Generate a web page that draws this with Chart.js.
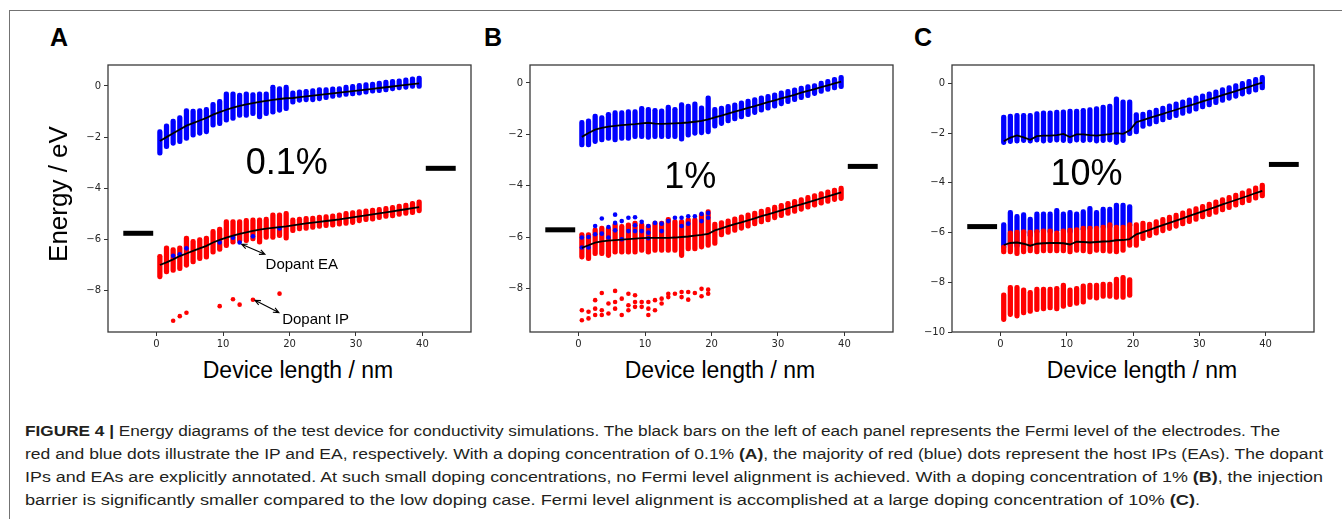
<!DOCTYPE html>
<html>
<head>
<meta charset="utf-8">
<title>Figure 4</title>
<script src="https://cdn.jsdelivr.net/npm/chart.js@4.4.1/dist/chart.umd.min.js"></script>
<style>
  html, body { margin: 0; padding: 0; background: #fff; }
  body { position: relative; width: 1342px; height: 519px; overflow: hidden; font-family: "Liberation Sans", Arial, sans-serif; color: #000; }
  .frame { position: absolute; left: 9px; top: 10px; width: 1400px; height: 600px; border-left: 1.5px solid #737373; border-top: 1.5px solid #737373; }
  .plot { position: absolute; top: 56px; }
  .letter { position: absolute; top: 25px; font-size: 25px; line-height: 25px; font-weight: bold; }
  .xtitle { position: absolute; top: 359px; width: 300px; text-align: center; font-size: 23px; line-height: 23px; white-space: nowrap; }
  .ytitle { position: absolute; left: -42px; top: 181px; width: 200px; height: 26px; text-align: center; font-size: 26px; line-height: 26px; transform: rotate(-90deg); white-space: nowrap; }
  .cap { position: absolute; left: 25px; font-family: "Liberation Sans Narrow", "Liberation Sans", Arial, sans-serif; font-size: 14px; line-height: 14px; white-space: nowrap; transform-origin: 0 0; color: #231f20; }
</style>
</head>
<body>
<div class="frame"></div>

<div class="letter" style="left:50px">A</div>
<div class="letter" style="left:484px">B</div>
<div class="letter" style="left:914px">C</div>

<canvas id="chartA" class="plot" width="414" height="300" style="left:63px"></canvas>
<canvas id="chartB" class="plot" width="414" height="300" style="left:485px"></canvas>
<canvas id="chartC" class="plot" width="413" height="300" style="left:907px"></canvas>

<div class="ytitle">Energy / eV</div>
<div class="xtitle" style="left:148px">Device length / nm</div>
<div class="xtitle" style="left:570px">Device length / nm</div>
<div class="xtitle" style="left:992px">Device length / nm</div>

<div class="cap" data-w="1255" style="top:424px"><b>FIGURE 4 |</b> Energy diagrams of the test device for conductivity simulations. The black bars on the left of each panel represents the Fermi level of the electrodes. The</div>
<div class="cap" data-w="1298" style="top:447px">red and blue dots illustrate the IP and EA, respectively. With a doping concentration of 0.1% <b>(A)</b>, the majority of red (blue) dots represent the host IPs (EAs). The dopant</div>
<div class="cap" data-w="1298" style="top:470px">IPs and EAs are explicitly annotated. At such small doping concentrations, no Fermi level alignment is achieved. With a doping concentration of 1% <b>(B)</b>, the injection</div>
<div class="cap" data-w="1175" style="top:493px">barrier is significantly smaller compared to the low doping case. Fermi level alignment is accomplished at a large doping concentration of 10% <b>(C)</b>.</div>

<script>
// site positions along the device (nm)
const cols = [0.5, 1.5, 2.5, 3.5, 4.5, 5.5, 6.5, 7.5, 8.5, 9.5, 10.5, 11.5, 12.5, 13.5, 14.5, 15.5, 16.5, 17.5, 18.5, 19.5,
              20.5, 21.5, 22.5, 23.5, 24.5, 25.5, 26.5, 27.5, 28.5, 29.5, 30.5, 31.5, 32.5, 33.5, 34.5, 35.5, 36.5, 37.5, 38.5, 39.5];
const dopedCols = cols.slice(0, 20);
const xTicks = [0, 10, 20, 30, 40];
const yTicksAB = [0, -2, -4, -6, -8];
const yTicksC = [0, -2, -4, -6, -8, -10];
const fermiLeftX = [-5, -0.5];
const fermiRightX = [40.5, 45];

// ---- panel A, 0.1 %
const aEaTop = [-1.71, -1.48, -1.29, -1.16, -0.88, -0.90, -0.88, -0.84, -0.64, -0.52, -0.23, -0.23, -0.28, -0.23, -0.26, -0.23, -0.23, 0.03, 0.00, 0.03,
                -0.19, -0.15, -0.13, -0.10, -0.06, -0.06, -0.03, 0.00, 0.03, 0.06, 0.10, 0.13, 0.15, 0.19, 0.23, 0.26, 0.28, 0.32, 0.36, 0.39];
const aEaBottom = [-2.71, -2.45, -2.32, -2.26, -2.13, -2.00, -1.93, -1.87, -1.61, -1.55, -1.42, -1.35, -1.23, -1.23, -1.16, -1.29, -1.16, -1.10, -1.03, -0.97,
                   -0.71, -0.64, -0.62, -0.62, -0.58, -0.54, -0.49, -0.45, -0.41, -0.39, -0.36, -0.32, -0.28, -0.26, -0.23, -0.19, -0.15, -0.13, -0.10, -0.10];
const aEaMean = [-2.15, -2.00, -1.85, -1.70, -1.55, -1.45, -1.35, -1.25, -1.12, -1.02, -0.93, -0.85, -0.78, -0.72, -0.67, -0.62, -0.58, -0.54, -0.51, -0.48,
                 -0.47, -0.44, -0.41, -0.38, -0.35, -0.32, -0.29, -0.26, -0.23, -0.20, -0.17, -0.14, -0.11, -0.08, -0.05, -0.02, 0.01, 0.04, 0.07, 0.10];
const aIpTop = [-6.58, -6.25, -6.32, -6.25, -5.87, -6.00, -5.93, -5.87, -5.61, -5.52, -5.22, -5.22, -5.22, -5.18, -5.16, -5.16, -5.13, -4.96, -4.96, -4.90,
                -5.16, -5.13, -5.10, -5.09, -5.05, -5.03, -5.00, -4.96, -4.90, -4.87, -4.83, -4.80, -4.77, -4.75, -4.71, -4.67, -4.62, -4.58, -4.51, -4.45];
const aIpBottom = [-7.54, -7.35, -7.29, -7.22, -7.09, -6.96, -6.83, -6.77, -6.58, -6.47, -6.32, -6.19, -6.13, -6.13, -6.06, -6.19, -6.00, -6.00, -5.93, -6.03,
                   -5.74, -5.67, -5.65, -5.61, -5.57, -5.54, -5.52, -5.48, -5.45, -5.42, -5.35, -5.31, -5.29, -5.23, -5.18, -5.16, -5.10, -5.06, -5.03, -4.96];
const aIpMean = [-7.00, -6.90, -6.78, -6.65, -6.55, -6.45, -6.35, -6.25, -6.12, -6.02, -5.93, -5.85, -5.78, -5.72, -5.67, -5.62, -5.58, -5.55, -5.52, -5.49,
                 -5.45, -5.41, -5.37, -5.34, -5.31, -5.28, -5.25, -5.22, -5.18, -5.14, -5.10, -5.06, -5.02, -4.98, -4.94, -4.90, -4.86, -4.82, -4.78, -4.74];
const aDopantX = [2.5, 3.5, 4.5, 9.5, 11.5, 12.5, 14.5, 18.5];
const aDopantEa = [-6.64, -6.58, -6.35, -6.12, -5.93, -6.12, -5.88, -5.57];
const aDopantIp = [-9.18, -9.00, -8.87, -8.61, -8.34, -8.55, -8.36, -8.12];
const fermiA = [-5.76, -3.22];

// ---- panel B, 1 %
const bEaTop = [-1.46, -1.40, -1.21, -1.27, -1.14, -1.08, -1.08, -1.04, -1.04, -0.91, -0.95, -0.99, -1.01, -0.86, -0.95, -0.76, -0.82, -0.73, -0.89, -0.50,
                -0.95, -0.90, -0.83, -0.77, -0.70, -0.63, -0.57, -0.50, -0.44, -0.38, -0.31, -0.25, -0.19, -0.12, -0.06, 0.00, 0.07, 0.14, 0.22, 0.30];
const bEaBottom = [-2.49, -2.49, -2.36, -2.30, -2.24, -2.30, -2.24, -2.24, -2.17, -2.17, -2.20, -2.17, -2.17, -2.17, -2.17, -2.27, -2.11, -2.04, -2.02, -1.98,
                   -1.76, -1.66, -1.56, -1.48, -1.40, -1.31, -1.23, -1.14, -1.06, -0.98, -0.89, -0.81, -0.73, -0.65, -0.57, -0.49, -0.41, -0.33, -0.27, -0.22];
const bEaMean = [-2.10, -1.95, -1.82, -1.75, -1.70, -1.67, -1.64, -1.62, -1.60, -1.57, -1.55, -1.58, -1.59, -1.58, -1.57, -1.56, -1.54, -1.51, -1.48, -1.42,
                 -1.34, -1.27, -1.19, -1.12, -1.05, -0.97, -0.90, -0.82, -0.75, -0.68, -0.60, -0.53, -0.46, -0.38, -0.31, -0.24, -0.16, -0.09, -0.02, 0.05];
const bIpTop = [-5.83, -5.83, -5.64, -5.57, -5.60, -5.45, -5.51, -5.45, -5.38, -5.45, -5.51, -5.38, -5.38, -5.23, -5.32, -5.32, -5.25, -5.25, -5.06, -4.93,
                -5.42, -5.36, -5.29, -5.21, -5.14, -5.06, -4.99, -4.91, -4.84, -4.76, -4.69, -4.61, -4.53, -4.46, -4.38, -4.31, -4.23, -4.16, -4.09, -4.02];
const bIpBottom = [-6.86, -6.92, -6.73, -6.73, -6.80, -6.67, -6.67, -6.67, -6.67, -6.60, -6.67, -6.60, -6.60, -6.60, -6.60, -6.80, -6.54, -6.54, -6.47, -6.41,
                   -6.33, -6.00, -5.90, -5.82, -5.74, -5.66, -5.57, -5.49, -5.41, -5.33, -5.25, -5.16, -5.08, -5.00, -4.92, -4.84, -4.76, -4.69, -4.62, -4.58];
const bIpMean = [-6.42, -6.32, -6.22, -6.17, -6.14, -6.12, -6.10, -6.08, -6.06, -6.04, -6.03, -6.03, -6.03, -6.03, -6.02, -6.00, -5.98, -5.95, -5.92, -5.88,
                 -5.74, -5.66, -5.58, -5.50, -5.43, -5.35, -5.27, -5.19, -5.12, -5.04, -4.96, -4.88, -4.80, -4.73, -4.65, -4.57, -4.49, -4.42, -4.34, -4.26];
const bDopantEaX = [0.5, 0.5, 1.5, 1.5, 2.5, 2.5, 3.5, 3.5, 4.5, 4.5, 5.5, 5.5, 5.5, 6.5, 6.5, 7.5, 7.5, 8.5, 8.5, 8.5,
                    9.5, 9.5, 10.5, 10.5, 10.5, 11.5, 12.5, 12.5, 13.5, 14.5, 15.5, 15.5, 16.5, 16.5, 17.5, 18.5, 18.5, 19.5, 19.5];
const bDopantEa = [-6.41, -6.02, -6.00, -6.41, -5.57, -5.89, -5.28, -5.87, -5.61, -6.02, -5.13, -5.45, -5.74, -5.38, -6.09, -5.25, -5.77, -5.23, -5.54, -5.77,
                   -5.41, -5.77, -5.57, -5.83, -6.05, -5.45, -5.48, -5.77, -5.38, -5.25, -5.25, -5.57, -5.19, -5.48, -5.19, -5.10, -5.38, -5.06, -5.25];
const bDopantIpX = [0.5, 0.5, 1.5, 1.5, 2.5, 2.5, 2.5, 3.5, 3.5, 3.5, 4.5, 4.5, 5.5, 5.5, 5.5, 6.5, 6.5, 7.5, 7.5, 7.5, 8.5, 8.5, 8.5,
                    9.5, 9.5, 10.5, 10.5, 10.5, 11.5, 11.5, 12.5, 12.5, 13.5, 13.5, 14.5, 15.5, 15.5, 16.5, 16.5, 17.5, 18.5, 18.5, 19.5, 19.5];
const bDopantIp = [-8.85, -9.24, -8.91, -9.17, -8.46, -8.79, -9.04, -8.18, -8.85, -9.04, -8.59, -8.98, -8.10, -8.53, -8.79, -8.40, -9.04, -8.21, -8.66, -8.85, -8.27, -8.53, -8.72,
                   -8.53, -8.72, -8.53, -8.79, -9.04, -8.46, -8.85, -8.40, -8.59, -8.34, -8.21, -8.21, -8.14, -8.34, -8.14, -8.44, -8.18, -8.02, -8.31, -8.05, -8.21];
const fermiB = [-5.72, -3.25];

// ---- panel C, 10 %
const cEaTop = [-1.27, -1.23, -1.20, -1.20, -1.20, -1.13, -1.10, -1.10, -1.07, -1.06, -1.03, -1.03, -1.00, -0.97, -0.93, -0.87, -0.83, -0.54, -0.66, -0.66,
                -1.17, -1.15, -1.07, -0.99, -0.91, -0.82, -0.74, -0.66, -0.58, -0.50, -0.42, -0.34, -0.26, -0.17, -0.09, -0.01, 0.08, 0.16, 0.24, 0.32];
const cEaBottom = [-2.46, -2.42, -2.40, -2.38, -2.40, -2.36, -2.40, -2.38, -2.36, -2.38, -2.40, -2.36, -2.38, -2.36, -2.40, -2.38, -2.36, -2.46, -2.38, -2.10,
                   -2.03, -1.81, -1.72, -1.63, -1.55, -1.46, -1.38, -1.29, -1.21, -1.12, -1.03, -0.95, -0.86, -0.77, -0.68, -0.60, -0.51, -0.43, -0.35, -0.26];
const cEaMean = [-2.33, -2.18, -2.09, -2.17, -2.27, -2.12, -2.10, -2.10, -2.08, -2.03, -2.16, -2.05, -2.05, -2.08, -2.10, -2.07, -2.04, -2.00, -2.03, -1.89,
                 -1.56, -1.48, -1.39, -1.31, -1.23, -1.14, -1.06, -0.97, -0.89, -0.81, -0.72, -0.64, -0.56, -0.47, -0.39, -0.31, -0.22, -0.14, -0.05, 0.03];
const cIpTop = [-6.50, -5.93, -5.90, -5.88, -5.90, -5.88, -5.85, -5.85, -5.93, -5.85, -5.82, -5.80, -5.74, -5.74, -5.74, -5.70, -5.60, -5.70, -5.70, -5.60,
                -5.60, -5.54, -5.58, -5.48, -5.39, -5.30, -5.22, -5.13, -5.04, -4.95, -4.86, -4.77, -4.68, -4.59, -4.50, -4.41, -4.32, -4.23, -4.12, -4.01];
const cIpBottom = [-6.86, -6.86, -6.93, -6.86, -6.82, -6.86, -6.82, -6.82, -6.82, -6.82, -6.86, -6.80, -6.82, -6.86, -6.80, -6.82, -6.84, -6.86, -6.80, -6.60,
                   -6.60, -6.33, -6.21, -6.11, -6.01, -5.92, -5.83, -5.73, -5.64, -5.55, -5.45, -5.36, -5.27, -5.17, -5.08, -4.98, -4.89, -4.80, -4.70, -4.61];
const cIpMean = [-6.50, -6.42, -6.40, -6.45, -6.53, -6.45, -6.43, -6.42, -6.42, -6.43, -6.48, -6.37, -6.38, -6.40, -6.38, -6.36, -6.35, -6.31, -6.30, -6.26,
                 -6.07, -5.98, -5.89, -5.79, -5.70, -5.61, -5.52, -5.43, -5.33, -5.24, -5.15, -5.06, -4.97, -4.87, -4.78, -4.69, -4.60, -4.51, -4.41, -4.32];
const cDopantEaTop = [-5.60, -5.11, -5.27, -5.20, -5.38, -5.17, -5.17, -5.17, -5.03, -5.17, -5.11, -5.17, -5.08, -4.94, -5.11, -4.98, -4.98, -4.81, -4.81, -4.87];
const cDopantEaBottom = [-6.66, -6.60, -6.62, -6.10, -6.20, -6.05, -6.00, -6.05, -6.00, -6.00, -6.05, -5.95, -5.95, -5.90, -5.90, -5.85, -5.85, -5.80, -5.80, -5.80];
const cDopantIpTop = [-8.42, -8.12, -8.12, -8.22, -8.32, -8.19, -8.19, -8.19, -8.16, -8.03, -8.22, -8.16, -8.06, -8.03, -8.03, -7.99, -7.99, -7.79, -7.72, -7.81];
const cDopantIpBottom = [-9.58, -9.38, -9.44, -9.31, -9.25, -9.18, -9.15, -9.11, -9.15, -9.05, -8.98, -8.93, -8.88, -8.69, -8.72, -8.65, -8.65, -8.69, -8.69, -8.61];
const fermiC = [-5.76, -3.26];

const BLUE = '#0000ff';
const RED = '#ff0000';

function columns(xs, bottom, top) {
  return xs.map((x, i) => ({ x: x, y: [bottom[i], top[i]] }));
}
function points(xs, ys) {
  return xs.map((x, i) => ({ x: x, y: ys[i] }));
}
function bars(data, color, order) {
  return { type: 'bar', data: data, backgroundColor: color, barThickness: 4.6, borderRadius: 2.3,
           borderSkipped: false, grouped: false, order: order };
}
function dots(data, color, order) {
  return { type: 'scatter', data: data, backgroundColor: color, borderWidth: 0,
           pointRadius: 2.3, pointHoverRadius: 2.3, order: order };
}
function meanLine(data) {
  return { type: 'line', data: data, borderColor: '#000', borderWidth: 1.8, pointRadius: 0,
           tension: 0, fill: false, order: 0 };
}
function fermiBar(xr, level) {
  return { type: 'line', data: [{ x: xr[0], y: level }, { x: xr[1], y: level }], borderColor: '#000',
           borderWidth: 5, borderCapStyle: 'butt', pointRadius: 0, fill: false, order: 0 };
}

function drawArrow(ctx, x1, y1, x2, y2) {
  const head = 6, spread = 0.42;
  const ang = Math.atan2(y2 - y1, x2 - x1);
  ctx.beginPath();
  ctx.moveTo(x1, y1);
  ctx.lineTo(x2, y2);
  [[x1, y1, ang], [x2, y2, ang + Math.PI]].forEach(h => {
    ctx.moveTo(h[0] + head * Math.cos(h[2] - spread), h[1] + head * Math.sin(h[2] - spread));
    ctx.lineTo(h[0], h[1]);
    ctx.lineTo(h[0] + head * Math.cos(h[2] + spread), h[1] + head * Math.sin(h[2] + spread));
  });
  ctx.stroke();
}

// axes frame, doping label and annotations
const panelExtras = {
  id: 'panelExtras',
  afterDatasetsDraw(chart, args, opts) {
    const ctx = chart.ctx;
    const ca = chart.chartArea;
    const sx = chart.scales.x, sy = chart.scales.y;
    ctx.save();
    ctx.fillStyle = '#000';
    ctx.strokeStyle = '#000';
    ctx.lineWidth = 1.1;
    (opts.arrows || []).forEach(a => drawArrow(ctx, sx.getPixelForValue(a[0]), sy.getPixelForValue(a[1]),
                                                    sx.getPixelForValue(a[2]), sy.getPixelForValue(a[3])));
    ctx.textBaseline = 'alphabetic';
    (opts.notes || []).forEach(n => {
      ctx.font = '15px "Liberation Sans", Arial, sans-serif';
      ctx.textAlign = 'left';
      ctx.fillText(n.text, sx.getPixelForValue(n.x), sy.getPixelForValue(n.y) + 0.358 * 15);
    });
    if (opts.pct) {
      ctx.font = '36px "Liberation Sans", Arial, sans-serif';
      ctx.textAlign = 'center';
      ctx.fillText(opts.pct.text, sx.getPixelForValue(opts.pct.x), sy.getPixelForValue(opts.pct.y) + 0.358 * 36);
    }
    ctx.strokeStyle = '#3a3a3a';
    ctx.lineWidth = 1.3;
    ctx.strokeRect(ca.left, ca.top, ca.right - ca.left, ca.bottom - ca.top);
    ctx.restore();
  }
};

function makePanel(id, cfg) {
  const tickFont = { family: 'DejaVu Sans', size: 10 };
  new Chart(document.getElementById(id), {
    type: 'bar',
    data: { datasets: cfg.datasets },
    options: {
      responsive: false,
      animation: false,
      devicePixelRatio: 1,
      events: [],
      layout: { padding: { left: 0, top: 6, right: 6, bottom: 0 } },
      plugins: { legend: { display: false }, tooltip: { enabled: false }, panelExtras: cfg.extras },
      scales: {
        x: {
          type: 'linear', min: -7.3, max: 47.3, offset: false,
          afterBuildTicks: s => { s.ticks = xTicks.map(v => ({ value: v })); },
          afterFit: s => { s.height = 24; },
          grid: { offset: false, drawOnChartArea: false, tickLength: 4, color: '#333', lineWidth: 1 },
          border: { display: false },
          ticks: { font: tickFont, color: '#262626', padding: 2, maxRotation: 0 }
        },
        y: {
          type: 'linear', min: cfg.yMin, max: cfg.yMax, beginAtZero: false,
          afterBuildTicks: s => { s.ticks = cfg.yTicks.map(v => ({ value: v })); },
          afterFit: s => { s.width = 45; },
          grid: { drawOnChartArea: false, tickLength: 4, color: '#333', lineWidth: 1 },
          border: { display: false },
          ticks: { font: tickFont, color: '#262626', padding: 3,
                   callback: v => String(v).replace('-', '\u2212') }
        }
      }
    },
    plugins: [panelExtras]
  });
}

makePanel('chartA', {
  yMin: -9.62, yMax: 0.82, yTicks: yTicksAB,
  datasets: [
    bars(columns(cols, aEaBottom, aEaTop), BLUE, 3),
    bars(columns(cols, aIpBottom, aIpTop), RED, 3),
    dots(points(aDopantX, aDopantEa), BLUE, 1),
    dots(points(aDopantX, aDopantIp), RED, 1),
    meanLine(points(cols, aEaMean)),
    meanLine(points(cols, aIpMean)),
    fermiBar(fermiLeftX, fermiA[0]),
    fermiBar(fermiRightX, fermiA[1])
  ],
  extras: {
    pct: { x: 19.6, y: -2.93, text: '0.1%' },
    notes: [{ x: 16.4, y: -6.96, text: 'Dopant EA' }, { x: 18.9, y: -9.09, text: 'Dopant IP' }],
    arrows: [[12.8, -6.19, 16.3, -6.58], [14.8, -8.38, 18.4, -8.86]]
  }
});

makePanel('chartB', {
  yMin: -9.70, yMax: 0.70, yTicks: yTicksAB,
  datasets: [
    bars(columns(cols, bEaBottom, bEaTop), BLUE, 3),
    bars(columns(cols, bIpBottom, bIpTop), RED, 3),
    dots(points(bDopantEaX, bDopantEa), BLUE, 1),
    dots(points(bDopantIpX, bDopantIp), RED, 1),
    meanLine(points(cols, bEaMean)),
    meanLine(points(cols, bIpMean)),
    fermiBar(fermiLeftX, fermiB[0]),
    fermiBar(fermiRightX, fermiB[1])
  ],
  extras: { pct: { x: 16.8, y: -3.57, text: '1%' } }
});

makePanel('chartC', {
  yMin: -10.0, yMax: 0.74, yTicks: yTicksC,
  datasets: [
    bars(columns(cols, cEaBottom, cEaTop), BLUE, 4),
    bars(columns(dopedCols, cDopantEaBottom, cDopantEaTop), BLUE, 4),
    bars(columns(cols, cIpBottom, cIpTop), RED, 3),
    bars(columns(dopedCols, cDopantIpBottom, cDopantIpTop), RED, 3),
    meanLine(points(cols, cEaMean)),
    meanLine(points(cols, cIpMean)),
    fermiBar(fermiLeftX, fermiC[0]),
    fermiBar(fermiRightX, fermiC[1])
  ],
  extras: { pct: { x: 13.0, y: -3.55, text: '10%' } }
});

// squeeze each caption line to the width it has in the printed figure
function fitCaption() {
  document.querySelectorAll('.cap').forEach(el => {
    el.style.transform = 'none';
    const w = el.getBoundingClientRect().width;
    el.style.transform = 'scaleX(' + (Number(el.dataset.w) / w) + ')';
  });
}
fitCaption();
if (document.fonts && document.fonts.ready) document.fonts.ready.then(fitCaption);
</script>
</body>
</html>
